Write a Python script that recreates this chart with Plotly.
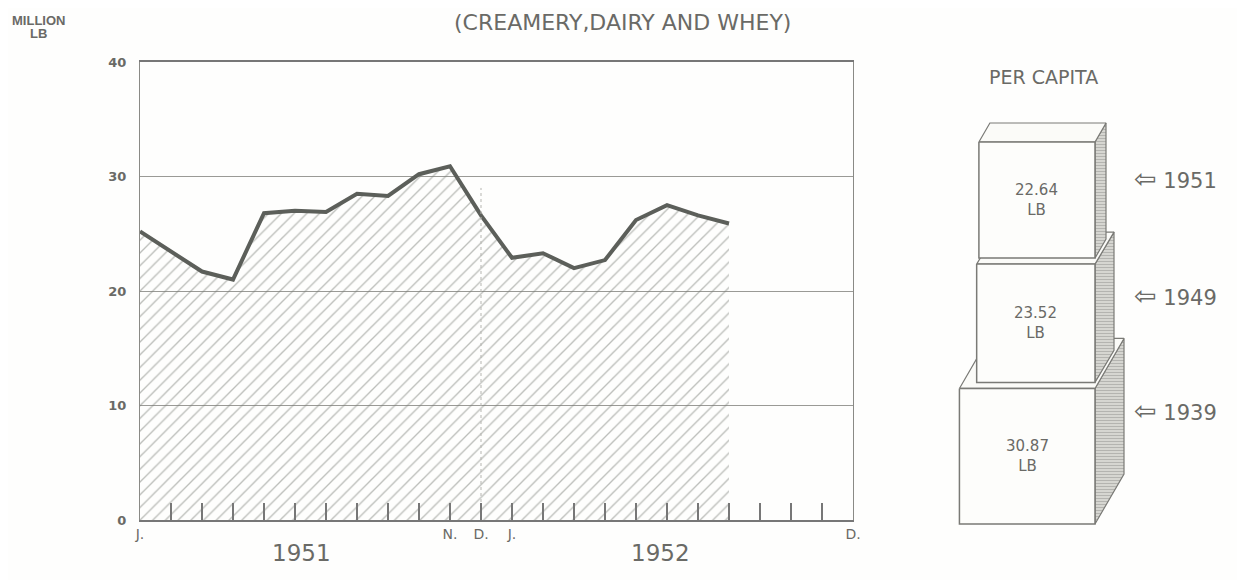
import plotly.graph_objects as go

# ---------------- data ----------------
month_index = list(range(24))                      # Jan 1951 .. Dec 1952
month_tick_text = ["J.", "", "", "", "", "", "", "", "", "", "N.", "D.",
                   "J.", "", "", "", "", "", "", "", "", "", "", "D."]
storage_months = list(range(20))                   # Jan 1951 .. Aug 1952
storage_million_lb = [25.2, 23.5, 21.7, 21.0, 26.8, 27.0, 26.9, 28.5, 28.3, 30.2,
                      30.9, 26.6, 22.9, 23.3, 22.0, 22.7, 26.2, 27.5, 26.6, 25.9]
year_labels = ["1951", "1952"]
year_label_pos = [5.2, 16.8]
y_tick_vals = [0, 10, 20, 30, 40]

per_capita_years = ["1939", "1949", "1951"]        # bottom to top
per_capita_lb = [30.87, 23.52, 22.64]

# ---------------- styles ----------------
TXT = "#6a6a66"
FONT = "DejaVu Sans, Liberation Sans, Arial"
W, H = 1245, 580
OFF = 8   # page body margin compensation
box_style = {
    "scale": 24.4,          # px per sqrt(lb)  (face area ~ value)
    "right": 1095, "bottom": 524, "gap": 6,
    "dx": [29, 19, 11], "dy": [-50, -32, -19],
    "label_off": [22, 31, 36],
}


def px(x):
    return (x - OFF) / W


def py(y):
    return 1 - (y - OFF) / H


fig = go.Figure()

# main area chart
fig.add_trace(go.Scatter(
    x=storage_months, y=storage_million_lb, mode="lines",
    line=dict(color="#5c5f5a", width=4),
    fill="tozeroy", fillcolor="rgba(0,0,0,0)",
    fillpattern=dict(shape="/", fgcolor="#7a7d77", bgcolor="rgba(0,0,0,0)",
                     size=9, solidity=0.15),
    xaxis="x", yaxis="y", showlegend=False, hoverinfo="skip"))

# dotted year divider
fig.add_trace(go.Scatter(
    x=[month_index[11], month_index[11]], y=[0, 29], mode="lines",
    line=dict(color="#b5b5b0", width=1, dash="dot"),
    xaxis="x", yaxis="y", showlegend=False, hoverinfo="skip"))

# ---------------- per-capita boxes ----------------
annotations = []
bottom = box_style["bottom"]
right = box_style["right"]
for i, (yr, v) in enumerate(zip(per_capita_years, per_capita_lb)):
    s = box_style["scale"] * v ** 0.5
    dx, dy = box_style["dx"][i], box_style["dy"][i]
    x0, x1 = right - s, right
    y1 = bottom
    y0 = bottom - s
    # side face
    fig.add_trace(go.Scatter(
        x=[x1, x1 + dx, x1 + dx, x1, x1], y=[y0, y0 + dy, y1 + dy, y1, y0],
        mode="lines", fill="toself", fillcolor="rgba(0,0,0,0)",
        fillpattern=dict(shape="-", fgcolor="#8c8c88", bgcolor="#dcdcd8",
                         size=3, solidity=0.45),
        line=dict(color="#7a7a76", width=1.2),
        xaxis="x2", yaxis="y2", showlegend=False, hoverinfo="skip"))
    # top face
    fig.add_trace(go.Scatter(
        x=[x0, x0 + dx, x1 + dx, x1, x0], y=[y0, y0 + dy, y0 + dy, y0, y0],
        mode="lines", fill="toself", fillcolor="#fbfbf8",
        line=dict(color="#7a7a76", width=1.2),
        xaxis="x2", yaxis="y2", showlegend=False, hoverinfo="skip"))
    # front face
    fig.add_trace(go.Scatter(
        x=[x0, x1, x1, x0, x0], y=[y0, y0, y1, y1, y0],
        mode="lines", fill="toself", fillcolor="#fdfdfb",
        line=dict(color="#7a7a76", width=1.5),
        xaxis="x2", yaxis="y2", showlegend=False, hoverinfo="skip"))
    annotations.append(dict(
        x=(x0 + x1) / 2, y=(y0 + y1) / 2, xref="x2", yref="y2",
        xanchor="center", yanchor="middle",
        text=f"{v:.2f}<br>LB", showarrow=False,
        font=dict(family=FONT, size=15, color=TXT), align="center"))
    annotations.append(dict(
        x=1132, y=y0 + box_style["label_off"][i], xref="x2", yref="y2",
        xanchor="left", yanchor="middle",
        text=f"<span style='font-size:27px'>⇦</span> {yr}", showarrow=False,
        font=dict(family=FONT, size=21, color=TXT)))
    bottom = y0 - box_style["gap"]

# ---------------- text ----------------
annotations += [
    dict(x=px(622), y=py(22), xref="paper", yref="paper",
         xanchor="center", yanchor="middle",
         text="(CREAMERY,DAIRY AND WHEY)", showarrow=False,
         font=dict(family=FONT, size=22, color=TXT)),
    dict(x=px(38), y=py(20), xref="paper", yref="paper",
         xanchor="center", yanchor="middle",
         text="<b>MILLION</b>", showarrow=False,
         font=dict(family="Liberation Sans Narrow, Liberation Sans", size=13, color=TXT)),
    dict(x=px(38), y=py(34), xref="paper", yref="paper",
         xanchor="center", yanchor="middle",
         text="<b>LB</b>", showarrow=False,
         font=dict(family="Liberation Sans Narrow, Liberation Sans", size=13, color=TXT)),
    dict(x=px(1043), y=py(77), xref="paper", yref="paper",
         xanchor="center", yanchor="middle",
         text="PER CAPITA", showarrow=False,
         font=dict(family=FONT, size=19, color=TXT)),
]
for lbl, pos in zip(year_labels, year_label_pos):
    annotations.append(dict(x=pos, y=py(553), xref="x", yref="paper",
                            xanchor="center", yanchor="middle",
                            text=lbl, showarrow=False,
                            font=dict(family=FONT, size=23, color=TXT)))

fig.update_layout(
    width=W, height=H,
    margin=dict(l=0, r=0, t=0, b=0, pad=0),
    paper_bgcolor="#fefefd", plot_bgcolor="rgba(0,0,0,0)",
    showlegend=False,
    xaxis=dict(domain=[px(140), px(853)], range=[0, 23],
               tickvals=month_index, ticktext=month_tick_text,
               ticks="inside", ticklen=17, tickwidth=1.5, tickcolor="#777",
               showline=True, linecolor="#777", linewidth=2, mirror=True,
               showgrid=False, zeroline=False, anchor="y", automargin=False,
               tickfont=dict(family=FONT, size=14, color=TXT)),
    yaxis=dict(domain=[py(520), py(62)], range=[0, 40],
               tickvals=y_tick_vals, ticks="", showline=True,
               linecolor="#8a8a86", linewidth=1.2, mirror=True,
               showgrid=True, gridcolor="#9a9a96", gridwidth=1,
               zeroline=False, anchor="x", ticklabelstandoff=10,
               automargin=False,
               tickfont=dict(family=FONT, size=13, color=TXT, weight="bold")),
    xaxis2=dict(domain=[0, 1], range=[OFF, W + OFF], visible=False, anchor="y2",
                automargin=False),
    yaxis2=dict(domain=[0, 1], range=[H + OFF, OFF], visible=False, anchor="x2",
                automargin=False),
    annotations=annotations,
)

fig.write_html("out.html")
